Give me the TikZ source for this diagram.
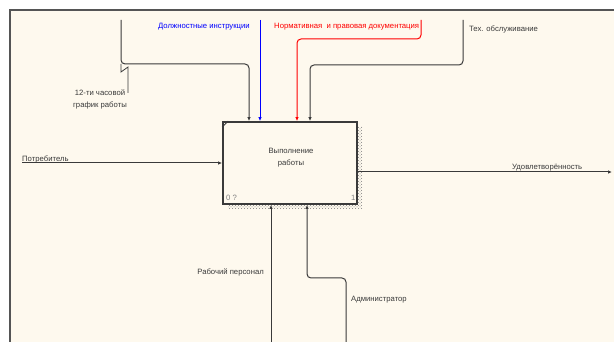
\documentclass[tikz,border=0pt]{standalone}
\usepackage{fontspec}
\setmainfont{Liberation Sans}
\usetikzlibrary{arrows.meta,patterns}
\definecolor{paper}{HTML}{FEF9EE}
\definecolor{frameline}{HTML}{555555}
\definecolor{ink}{HTML}{3A3A3A}
\begin{document}
\begin{tikzpicture}[x=1pt,y=-1pt,
  lbl/.style={font=\fontsize{7.7}{12}\selectfont,text=ink,inner sep=0pt},
  arr/.style={draw=ink,line width=1pt,rounded corners=4pt,-{Latex[length=4pt,width=3.5pt]}}]
\useasboundingbox (0,0) rectangle (614,342);
\fill[paper] (10,10) rectangle (614,342);
\draw[frameline,line width=1.5pt] (10,342) -- (10,10) -- (614,10);

\fill[pattern=crosshatch dots,pattern color=gray] (228,127) rectangle (362,209);
\node[draw=ink,fill=paper,line width=1.8pt,minimum width=134,minimum height=82,inner sep=0pt] (box) at (290,163) {};
\draw[ink,line width=0.8pt] ([yshift=-6pt]box.north west) -- ([xshift=6pt]box.north west);
\node[lbl,align=center] (func) at (291,158) {Выполнение\\работы};
\node[lbl,text=gray,anchor=west] (num) at (226,198) {0 ?};
\node[lbl,text=gray,anchor=west] (idx) at (351,198) {1};

\coordinate (graf) at (121,20);
\coordinate (instr) at (260,20);
\coordinate (norm) at (421,20);
\coordinate (tech) at (463,20);
\coordinate (potr) at (22,163);
\coordinate (udov) at (612,172);
\coordinate (rab) at (271,342);
\coordinate (adm) at (346,342);

\draw[arr] (graf) -- ++(0,44) -| ([xshift=-41pt]box.north);
\draw[arr,draw=blue] (instr) -- ([xshift=-30pt]box.north);
\draw[arr,draw=red] (norm) -- ++(0,19) -| ([xshift=7pt]box.north);
\draw[arr] (tech) -- ++(0,45) -| ([xshift=20pt]box.north);
\draw[arr] (potr) -- (box.west);
\draw[arr] (box.east |- udov) -- (udov);
\draw[arr] (rab) -- (rab |- box.south);
\draw[arr] (adm) -- ++(0,-64) -| ([xshift=17pt]box.south);
\draw[ink,line width=0.8pt] (121,64) -- (121,72) -- (128,67) -- (128,93);

\node[lbl,align=center] (grafl) at (100,99) {12-ти часовой\\график работы};
\node[lbl,text=blue,anchor=west] (instrl) at (158,27) {Должностные инструкции};
\node[lbl,text=red,anchor=west] (norml) at (274,27) {Нормативная~ и правовая документация};
\node[lbl,anchor=west] (techl) at (469,29) {Тех. обслуживание};
\node[lbl,anchor=west] (potrl) at (22,159) {Потребитель};
\node[lbl,anchor=west] (udovl) at (512,168) {Удовлетворённость};
\node[lbl,anchor=east] (rabl) at (264,272) {Рабочий персонал};
\node[lbl,anchor=west] (adml) at (351,300) {Администратор};
\end{tikzpicture}
\end{document}
